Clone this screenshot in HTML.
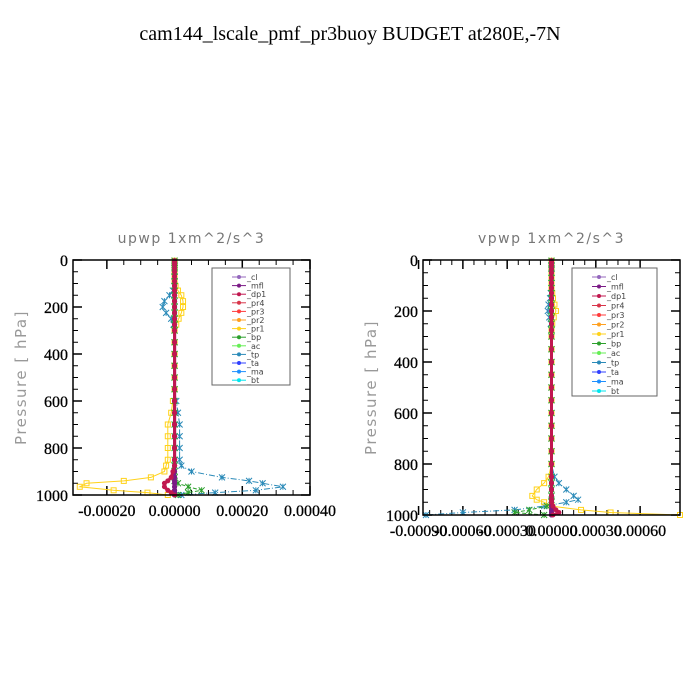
<!DOCTYPE html>
<html><head><meta charset="utf-8"><style>
body{margin:0;background:#fff;}
svg{display:block;}
</style></head><body>
<svg id="chart" width="700" height="700" xmlns="http://www.w3.org/2000/svg">
<text x="350" y="40" text-anchor="middle" font-family="Liberation Serif, serif" font-size="20">cam144_lscale_pmf_pr3buoy  BUDGET at280E,-7N</text>
</svg>
<script>
const levels=[3,10,20,35,50,70,90,110,130,150,175,200,225,250,275,300,350,400,450,500,550,600,650,700,750,800,850,875,900,925,940,950,965,980,990,1000];
const seriesNames=["_cl","_mfl","_dp1","_pr4","_pr3","_pr2","_pr1","_bp","_ac","_tp","_ta","_ma","_bt"];
const seriesColors=["#9467bd","#7b1a86","#c0174f","#d8354a","#ff3b3b","#ffa020","#ffd21a","#2ca02c","#66ee55","#2a8ab8","#3040ff","#1e90ff","#00e5ee"];
// values in units of 1e-5, per level
const upTp=[0,0,0,0,0,0,0,0,-0.5,-1.5,-3,-3.5,-2.5,-1,-0.3,0,0,0,0,0,0,0.5,1,1.5,1.5,1.5,1.5,2,5,14,22,26,32,24,12,2];
const upPr1=[0,0,0,0,0,0,0,0.3,1,2,2.5,2.5,2,1.2,0.5,0,0,0,0,0,0,-0.5,-1,-2,-2,-2,-2,-2.5,-3,-7,-15,-26,-28,-18,-8,-2];
const upBp=[0,0,0,0,0,0,0,0,0,0,0,0,0,0,0,0,0,0,0,0,0,0,0,0,0,0,0,0,0,0,0,1,4,8,4,1];
const upDp1=[0,0,0,0,0,0,0,0,0,0,0,0,0,0,0,0,0,0,0,0,0,0,0,0,0,0,0,0,-0.5,-1,-2,-3,-3,-2,-1,0];
const vpTp=[0,0,0,0,0,0,0,0,-0.5,-1,-2,-2.5,-1.5,-0.5,0,0,0,0,0,0,0,0,0,0,0,0,2,5,10,15,18,10,-5,-25,-60,-85];
const vpPr1=[0,0,0,0,0,0,0,0,0.5,1,2,3,1.5,0.5,0,0,0,0,0,0,0,0,0,0,0,0,-2,-5,-10,-13,-10,-5,0,20,40,87];
const vpBp=[0,0,0,0,0,0,0,0,0,0,0,0,0,0,0,0,0,0,0,0,0,0,0,0,0,0,0,0,0,0,0,0,-3,-15,-25,-5];
const vpDp1=[0,0,0,0,0,0,0,0,0,0,0,0,0,0,0,0,0,0,0,0,0,0,0,0,0,0,0,0,0,0,0,0,1,3,5,1];
const upTicks=[-0.0002,0,0.0002,0.0004];
const upTickLabels=["-0.00020","0.00000","0.00020","0.00040"];
const vpTicks=[-0.0009,-0.0006,-0.0003,0,0.0003,0.0006];
const vpTickLabels=["-0.00090","-0.00060","-0.00030","0.00000","0.00030","0.00060"];
const yTicks=[0,200,400,600,800,1000];

const NS="http://www.w3.org/2000/svg";
const svg=document.getElementById('chart');
function mk(tag,attrs,parent){const e=document.createElementNS(NS,tag);for(const k in attrs)e.setAttribute(k,attrs[k]);(parent||svg).appendChild(e);return e;}

function panel(cfg){
  const g=mk('g',{});
  
  
  const {x0,x1,y0,y1,xmin,xmax}=cfg;
  const X=v=>x0+(v-xmin)/(xmax-xmin)*(x1-x0);
  const Y=p=>y0+p/1000*(y1-y0);
  const t=mk('text',{x:(x0+x1)/2,y:y0-17,'text-anchor':'middle','font-family':'DejaVu Sans, sans-serif','font-size':14,fill:'#777','letter-spacing':'1.5'},g);
  t.textContent=cfg.title;
  
  
  for(let p=0;p<=1000;p+=50){const major=p%200===0;const l=major?9:5;
    mk('line',{x1:x0,x2:x0+l,y1:Y(p),y2:Y(p),stroke:'#000','stroke-width':major?1.5:1},g);
    mk('line',{x1:x1,x2:x1-l,y1:Y(p),y2:Y(p),stroke:'#000','stroke-width':major?1.5:1},g);}
  yTicks.forEach(p=>{const tl=mk('text',{x:x0-5,y:Y(p)+6,'text-anchor':'end','font-family':'Liberation Serif, serif','font-size':16,stroke:'#000','stroke-width':0.3},g);tl.textContent=p;
    
    });
  cfg.ticks.forEach((v,i)=>{mk('line',{x1:X(v),x2:X(v),y1:y1,y2:y1-9,stroke:'#000','stroke-width':1.5},g);
    mk('line',{x1:X(v),x2:X(v),y1:y0,y2:y0+9,stroke:'#000','stroke-width':1.5},g);
    const tl=mk('text',{x:X(v),y:y1+21,'text-anchor':'middle','font-family':'Liberation Serif, serif','font-size':16,stroke:'#000','stroke-width':0.3},g);tl.textContent=cfg.labels[i];
    
    });
  for(let i=0;i<cfg.ticks.length-1;i++){for(let k=1;k<4;k++){const v=cfg.ticks[i]+(cfg.ticks[i+1]-cfg.ticks[i])*k/4;
    mk('line',{x1:X(v),x2:X(v),y1:y1,y2:y1-5,stroke:'#000'},g);mk('line',{x1:X(v),x2:X(v),y1:y0,y2:y0+5,stroke:'#000'},g);}}
  const yl=mk('text',{x:0,y:0,transform:`translate(${x0-47},${(y0+y1)/2}) rotate(-90)`,'text-anchor':'middle','font-family':'DejaVu Sans, sans-serif','font-size':15,fill:'#999','letter-spacing':'1.5'},g);
  yl.textContent='Pressure [ hPa]';
  
  
  const zero=levels.map(()=>0);
  const data={"_tp":cfg.tp,"_pr1":cfg.pr1,"_bp":cfg.bp,"_dp1":cfg.dp1};
  const order=["_ta","_ma","_bt","_ac","_pr2","_pr3","_pr4","_tp","_pr1","_bp","_cl","_mfl","_dp1"];
  order.forEach(nm=>{const i=seriesNames.indexOf(nm);const col=seriesColors[i];const vals=data[nm]||zero;
    const sg=mk('g',{},g);
    
    
    const pts=levels.map((p,j)=>X(vals[j]*1e-5).toFixed(1)+','+Y(p).toFixed(1)).join(' ');
    const thick=(nm==="_dp1"||nm==="_mfl")?3:1;
    mk('polyline',{points:pts,fill:'none',stroke:col,'stroke-width':thick,'stroke-dasharray':nm==="_tp"?'6,2,1,2':(nm==="_bp"?'4,2':'none')},sg);
    levels.forEach((p,j)=>{const cx=X(vals[j]*1e-5),cy=Y(p);
      if(nm==="_pr1")mk('rect',{x:cx-2.5,y:cy-2.5,width:5,height:5,fill:'none',stroke:col},sg);
      else if(nm==="_tp"||nm==="_bp"){mk('path',{d:`M${cx-3},${cy-3}L${cx+3},${cy+3}M${cx-3},${cy+3}L${cx+3},${cy-3}M${cx},${cy-3}V${cy+3}`,stroke:col},sg);}
      else mk('circle',{cx:cx,cy:cy,r:2.5,fill:col},sg);});
  });
  mk('rect',{x:x0,y:y0,width:x1-x0,height:y1-y0,fill:'none',stroke:'#000','stroke-width':1.5},g);
  const lg=mk('g',{},g);
  
  
  const L=cfg.legend;
  mk('rect',{x:L.x,y:L.y,width:L.w,height:L.h,fill:'#fff',stroke:'#666'},lg);
  seriesNames.forEach((nm,i)=>{const ly=L.y+9+i*L.step;
    const e=mk('g',{},lg);
    
    
    mk('line',{x1:L.x+20,x2:L.x+34,y1:ly,y2:ly,stroke:seriesColors[i]},e);
    mk('circle',{cx:L.x+27,cy:ly,r:2,fill:seriesColors[i]},e);
    const tx=mk('text',{x:L.x+35,y:ly+3,'font-family':'DejaVu Sans, sans-serif','font-size':8,fill:'#444'},e);tx.textContent=nm;});
}
panel({name:'upwp-panel',title:'upwp   1xm^2/s^3',x0:73,x1:310,y0:260,y1:495,xmin:-0.0003,xmax:0.0004,ticks:upTicks,labels:upTickLabels,tp:upTp,pr1:upPr1,bp:upBp,dp1:upDp1,legend:{x:212,y:268,w:78,h:117,step:8.6}});
panel({name:'vpwp-panel',title:'vpwp   1xm^2/s^3',x0:423,x1:680,y0:260,y1:515,xmin:-0.00087,xmax:0.00087,ticks:vpTicks,labels:vpTickLabels,tp:vpTp,pr1:vpPr1,bp:vpBp,dp1:vpDp1,legend:{x:572,y:268,w:85,h:128,step:9.5}});
</script>
</body></html>
